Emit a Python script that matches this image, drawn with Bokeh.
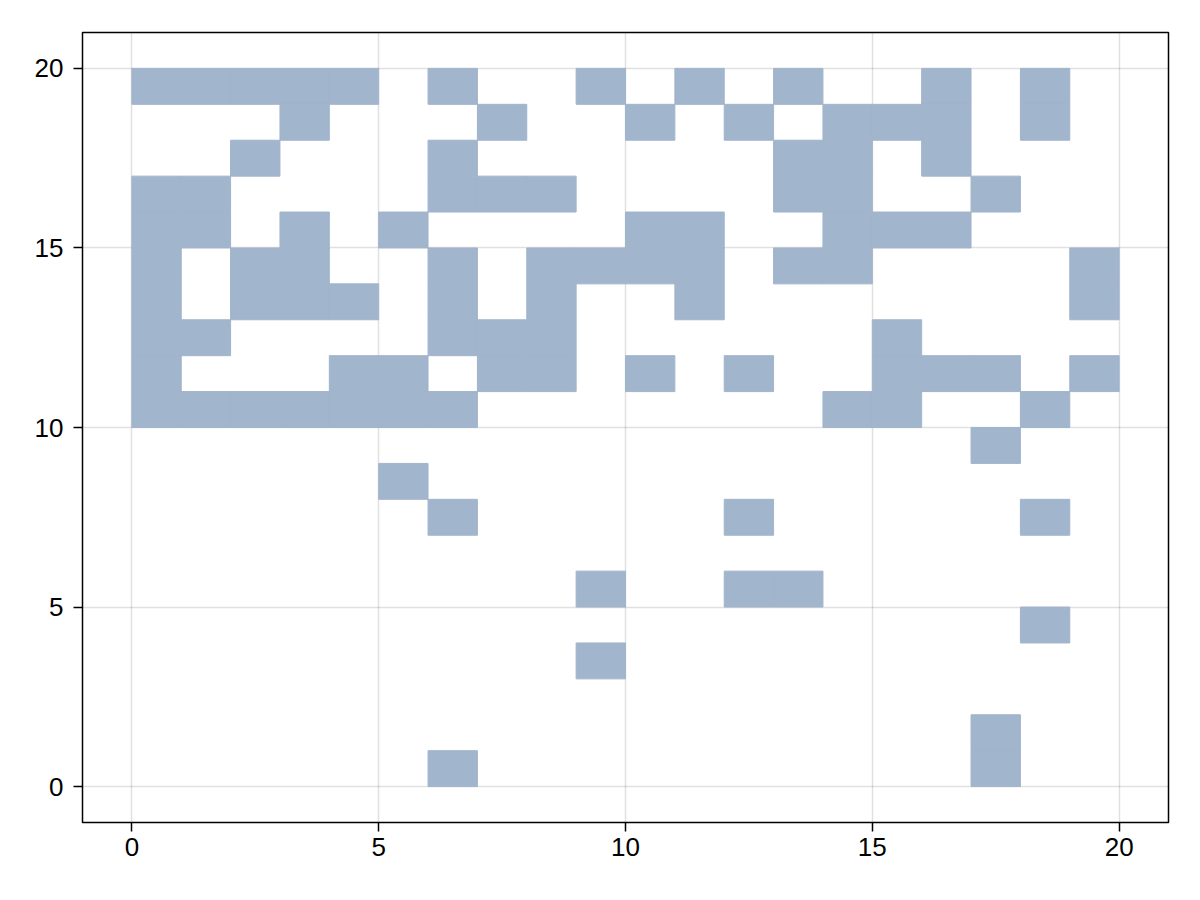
from bokeh.plotting import figure
from bokeh.models import FixedTicker, ColumnDataSource
from bokeh.embed import file_html
from bokeh.resources import INLINE

# Boolean grid, top row is y = 19, bottom row is y = 0; columns x = 0..19
rows = [
    "11111010010101001010",  # y=19
    "00010001001010111010",  # y=18
    "00100010000001101000",  # y=17
    "11000011100001100100",  # y=16
    "11010100001100111000",  # y=15
    "10110010111101100001",  # y=14
    "10111010100100000001",  # y=13
    "11000011100000010000",  # y=12
    "10001101101010011101",  # y=11
    "11111110000000110010",  # y=10
    "00000000000000000100",  # y=9
    "00000100000000000000",  # y=8
    "00000010000010000010",  # y=7
    "00000000000000000000",  # y=6
    "00000000010011000000",  # y=5
    "00000000000000000010",  # y=4
    "00000000010000000000",  # y=3
    "00000000000000000000",  # y=2
    "00000000000000000100",  # y=1
    "00000010000000000100",  # y=0
]
ticks = [0, 5, 10, 15, 20]

n = len(rows)
xs, ys = [], []
for r, row in enumerate(rows):
    y = n - 1 - r
    for x, ch in enumerate(row):
        if ch == "1":
            xs.append(x)
            ys.append(y)

src = ColumnDataSource(dict(
    left=xs, right=[x + 1 for x in xs],
    bottom=ys, top=[y + 1 for y in ys],
))

p = figure(
    frame_width=1086, frame_height=790,
    min_border_left=82, min_border_right=32,
    min_border_top=32, min_border_bottom=78,
    x_range=(-1, 21), y_range=(-1, 21),
    output_backend="svg", toolbar_location=None,
)
p.quad(left="left", right="right", bottom="bottom", top="top", source=src,
       fill_color="#a1b5cc", line_color="#a1b5cc", line_width=1)

p.outline_line_color = "black"
p.outline_line_width = 1.5
p.outline_line_alpha = 1.0

for ax in (p.xaxis[0], p.yaxis[0]):
    ax.ticker = FixedTicker(ticks=ticks)
    ax.axis_line_color = None
    ax.major_tick_line_color = "black"
    ax.major_tick_line_width = 1.5
    ax.major_tick_out = 9
    ax.major_tick_in = 0
    ax.minor_tick_line_color = None
    ax.major_label_text_font = "Liberation Sans"
    ax.major_label_text_font_size = "26px"
    ax.major_label_text_color = "black"

p.xaxis[0].major_label_standoff = 6
p.yaxis[0].major_label_standoff = 10

p.xgrid.ticker = FixedTicker(ticks=ticks)
p.ygrid.ticker = FixedTicker(ticks=ticks)
p.grid.grid_line_color = "black"
p.grid.grid_line_alpha = 0.12
p.grid.grid_line_width = 1.5

open("out.html", "w").write(file_html(p, INLINE))
